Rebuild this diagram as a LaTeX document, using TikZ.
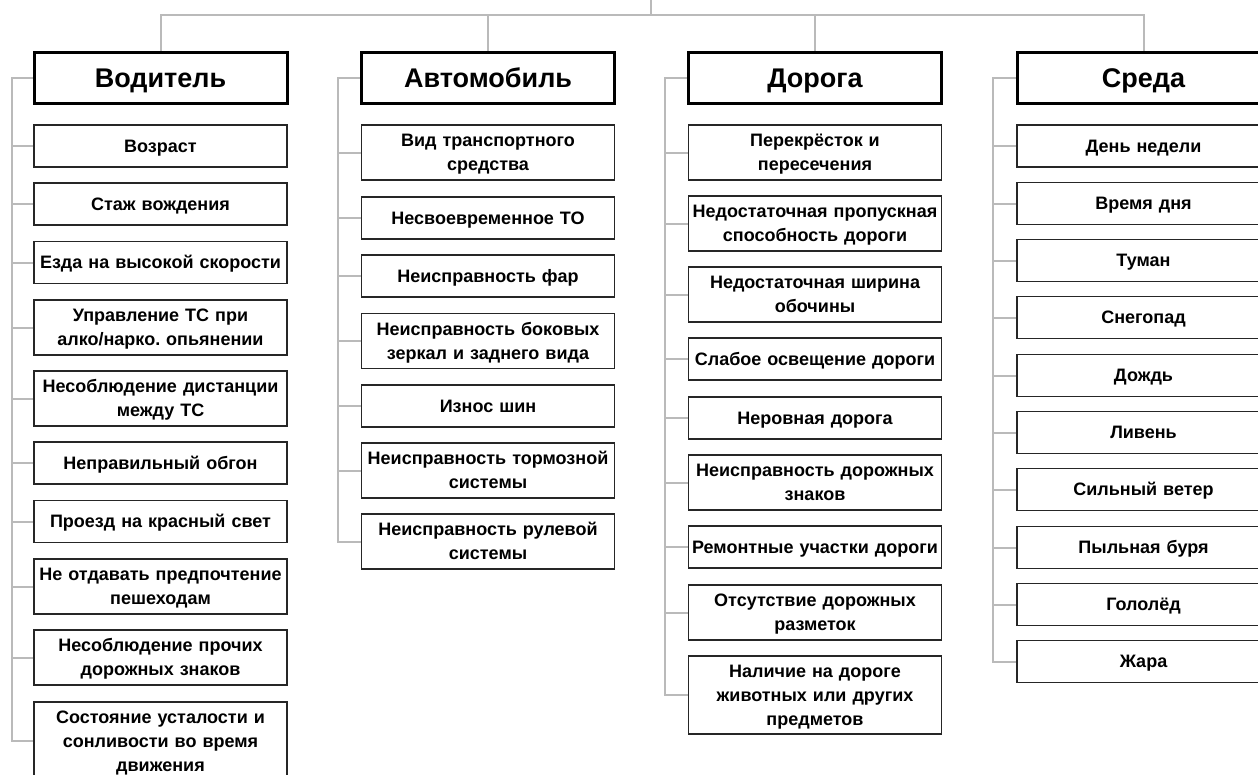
\documentclass[tikz,border=0pt]{standalone}
\usepackage{fontspec}
\setmainfont{Liberation Sans}
\frenchspacing

\tikzset{
  head/.style={draw=black, line width=3pt, minimum width=253pt, minimum height=51pt, inner sep=0pt, text height=19.3pt, text depth=0pt, font=\fontsize{27}{32}\selectfont\bfseries},
  item/.style={draw=black!85, line width=1.6pt, minimum width=253pt, minimum height=42pt, text width=253pt, align=center, inner sep=0pt, font=\fontsize{18}{24}\selectfont\bfseries,
    execute at begin node={\rule{0pt}{16.9pt}}, execute at end node={\rule[-4pt]{0pt}{4pt}}},
  tall/.style={minimum height=55pt},
  taller/.style={minimum height=78pt},
  link/.style={draw=black!27, line width=2pt}
}

\begin{document}
\begin{tikzpicture}[x=1pt,y=-1pt]
\useasboundingbox (0,0) rectangle (1258,774);
\coordinate (root) at (651,0);
\coordinate (bus) at (651,15);
% headers
\node[head] (vod) at (160.5,77.5) {Водитель};
\node[head] (avto) at (488,77.5) {Автомобиль};
\node[head] (dor) at (815,77.5) {Дорога};
\node[head] (sreda) at (1143.5,77.5) {Среда};
\draw[link] (root) -- (bus);
\draw[link] (vod.north) |- (bus) (avto.north) |- (bus) (dor.north) |- (bus) (sreda.north) |- (bus);
% spines
\coordinate (vs) at (12,0);
\coordinate (as) at (338,0);
\coordinate (ds) at (665,0);
\coordinate (ss) at (993,0);

% Водитель
\node[item] (v1) at (160.5,146) {Возраст};
\node[item] (v2) at (160.5,204) {Стаж вождения};
\node[item] (v3) at (160.5,262.5) {Езда на высокой скорости};
\node[item,tall] (v4) at (160.5,327.5) {Управление ТС при\\алко/нарко. опьянении};
\node[item,tall] (v5) at (160.5,398.5) {Несоблюдение дистанции\\между ТС};
\node[item] (v6) at (160.5,463) {Неправильный обгон};
\node[item] (v7) at (160.5,521.5) {Проезд на красный свет};
\node[item,tall] (v8) at (160.5,586.5) {Не отдавать предпочтение\\пешеходам};
\node[item,tall] (v9) at (160.5,657.5) {Несоблюдение прочих\\дорожных знаков};
\node[item,taller] (v10) at (160.5,741) {Состояние усталости и\\сонливости во время\\движения};
\draw[link] (vod.west) -- (vod.west -| vs) |- (v10.west);
\draw[link] (v1.west) -- (v1.west -| vs) (v2.west) -- (v2.west -| vs) (v3.west) -- (v3.west -| vs)
  (v4.west) -- (v4.west -| vs) (v5.west) -- (v5.west -| vs) (v6.west) -- (v6.west -| vs)
  (v7.west) -- (v7.west -| vs) (v8.west) -- (v8.west -| vs) (v9.west) -- (v9.west -| vs);

% Автомобиль
\node[item,tall] (a1) at (488,152.5) {Вид транспортного\\средства};
\node[item] (a2) at (488,218) {Несвоевременное ТО};
\node[item] (a3) at (488,276) {Неисправность фар};
\node[item,tall] (a4) at (488,341) {Неисправность боковых\\зеркал и заднего вида};
\node[item] (a5) at (488,406) {Износ шин};
\node[item,tall] (a6) at (488,470.5) {Неисправность тормозной\\системы};
\node[item,tall] (a7) at (488,541.5) {Неисправность рулевой\\системы};
\draw[link] (avto.west) -- (avto.west -| as) |- (a7.west);
\draw[link] (a1.west) -- (a1.west -| as) (a2.west) -- (a2.west -| as) (a3.west) -- (a3.west -| as)
  (a4.west) -- (a4.west -| as) (a5.west) -- (a5.west -| as) (a6.west) -- (a6.west -| as);

% Дорога
\node[item,tall] (d1) at (815,152.5) {Перекрёсток и\\пересечения};
\node[item,tall] (d2) at (815,223.5) {Недостаточная пропускная\\способность дороги};
\node[item,tall] (d3) at (815,294.5) {Недостаточная ширина\\обочины};
\node[item] (d4) at (815,359) {Слабое освещение дороги};
\node[item] (d5) at (815,418) {Неровная дорога};
\node[item,tall] (d6) at (815,482.5) {Неисправность дорожных\\знаков};
\node[item] (d7) at (815,547) {Ремонтные участки дороги};
\node[item,tall] (d8) at (815,612.5) {Отсутствие дорожных\\разметок};
\node[item,taller] (d9) at (815,695) {Наличие на дороге\\животных или других\\предметов};
\draw[link] (dor.west) -- (dor.west -| ds) |- (d9.west);
\draw[link] (d1.west) -- (d1.west -| ds) (d2.west) -- (d2.west -| ds) (d3.west) -- (d3.west -| ds)
  (d4.west) -- (d4.west -| ds) (d5.west) -- (d5.west -| ds) (d6.west) -- (d6.west -| ds)
  (d7.west) -- (d7.west -| ds) (d8.west) -- (d8.west -| ds);

% Среда
\node[item] (s1) at (1143.5,146) {День недели};
\node[item] (s2) at (1143.5,203.5) {Время дня};
\node[item] (s3) at (1143.5,260.5) {Туман};
\node[item] (s4) at (1143.5,317.5) {Снегопад};
\node[item] (s5) at (1143.5,375.5) {Дождь};
\node[item] (s6) at (1143.5,432.5) {Ливень};
\node[item] (s7) at (1143.5,489.5) {Сильный ветер};
\node[item] (s8) at (1143.5,547.5) {Пыльная буря};
\node[item] (s9) at (1143.5,604.5) {Гололёд};
\node[item] (s10) at (1143.5,661.5) {Жара};
\draw[link] (sreda.west) -- (sreda.west -| ss) |- (s10.west);
\draw[link] (s1.west) -- (s1.west -| ss) (s2.west) -- (s2.west -| ss) (s3.west) -- (s3.west -| ss)
  (s4.west) -- (s4.west -| ss) (s5.west) -- (s5.west -| ss) (s6.west) -- (s6.west -| ss)
  (s7.west) -- (s7.west -| ss) (s8.west) -- (s8.west -| ss) (s9.west) -- (s9.west -| ss);
\end{tikzpicture}
\end{document}
